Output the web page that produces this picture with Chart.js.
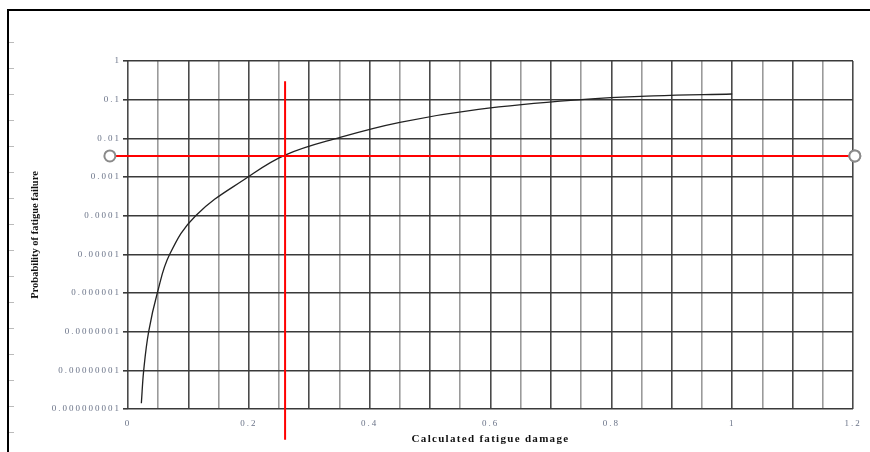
<!doctype html>
<html lang="en">
<head>
    <meta charset="utf-8">
    <title>Probability of fatigue failure</title>
    <style>
        * {
            margin: 0;
            padding: 0;
        }

        body {
            background: white;
        }

        .chartBox {
            width: 870px;
            height: 452px;
        }
    </style>
</head>
<body>
    <div class="chartBox">
        <canvas id="myChart" width="870" height="452"></canvas>
    </div>
    <script src="https://cdn.jsdelivr.net/npm/chart.js"></script>
    <script>
        // setup
        const damage = [0.0221, 0.026, 0.0342, 0.0485, 0.069, 0.112, 0.1986, 0.26, 0.35, 0.45, 0.58, 0.75, 0.87, 1.0];
        const probability = [1.41e-9, 1e-8, 1e-7, 1e-6, 1e-5, 1e-4, 1e-3, 3.7e-3, 1.05e-2, 2.6e-2, 5.6e-2, 0.1, 0.125, 0.14];

        // red reading lines
        const readX = [0.26, 0.26];
        const readXProb = [0.3, 1.6e-10];
        const readY = [0.0035, 0.0035];
        const readYDamage = [-0.03, 1.203];

        const yTicks = [1, 0.1, 0.01, 0.001, 0.0001, 0.00001, 0.000001, 0.0000001, 0.00000001, 0.000000001];
        const yTickLabels = ['1', '0.1', '0.01', '0.001', '0.0001', '0.00001', '0.000001', '0.0000001', '0.00000001', '0.000000001'];
        const xLabelStep = 0.2;

        const serif = '"Liberation Serif", "DejaVu Serif", serif';

        const toPoints = (xs, ys) => xs.map((x, i) => ({ x: x, y: ys[i] }));

        // letter spacing per scale: [tick labels, title]
        const spacing = { x: ['2px', '1.3px'], y: ['2px', '0px'] };

        const framePlugin = {
            id: 'frame',
            beforeDraw(chart) {
                // page frame and small ruler marks on the left
                const ctx = chart.ctx;
                ctx.save();
                ctx.fillStyle = 'white';
                ctx.fillRect(0, 0, chart.width, chart.height);
                ctx.strokeStyle = '#000';
                ctx.lineWidth = 2;
                ctx.beginPath();
                ctx.moveTo(8, chart.height);
                ctx.lineTo(8, 10);
                ctx.lineTo(chart.width, 10);
                ctx.stroke();
                ctx.strokeStyle = '#bbb';
                ctx.lineWidth = 1;
                for (let y = 42; y < chart.height; y += 26) {
                    ctx.beginPath();
                    ctx.moveTo(9, y + 0.5);
                    ctx.lineTo(14, y + 0.5);
                    ctx.stroke();
                }
                ctx.restore();
            },
            afterLayout(chart) {
                Object.keys(spacing).forEach(id => {
                    const s = chart.scales[id];
                    if (!s || s._spaced) return;
                    const drawLabels = s.drawLabels;
                    const drawTitle = s.drawTitle;
                    s.drawLabels = function(area) {
                        this.ctx.letterSpacing = spacing[id][0];
                        drawLabels.call(this, area);
                        this.ctx.letterSpacing = '0px';
                    };
                    s.drawTitle = function() {
                        this.ctx.letterSpacing = spacing[id][1];
                        drawTitle.call(this);
                        this.ctx.letterSpacing = '0px';
                    };
                    s._spaced = true;
                });
            },
            afterDatasetsDraw(chart) {
                // end markers lie outside the plot area, draw them with the full canvas as area
                const meta = chart.getDatasetMeta(2);
                const full = { left: 0, top: 0, right: chart.width, bottom: chart.height };
                meta.data.forEach(pt => pt.draw(chart.ctx, full));
            }
        };

        const data = {
            datasets: [{
                label: 'Probability of fatigue failure',
                data: toPoints(damage, probability),
                showLine: true,
                borderColor: '#222',
                borderWidth: 1.3,
                pointRadius: 0,
                tension: 0.4,
                order: 3
            }, {
                label: 'Damage reading',
                data: toPoints(readX, readXProb),
                showLine: true,
                borderColor: '#ff0000',
                borderWidth: 2,
                pointRadius: 0,
                clip: false,
                order: 2
            }, {
                label: 'Probability reading',
                data: toPoints(readYDamage, readY),
                showLine: true,
                borderColor: '#ff0000',
                borderWidth: 2,
                pointRadius: 5.5,
                pointBackgroundColor: 'white',
                pointBorderColor: '#8a8a8a',
                pointBorderWidth: 2,
                clip: false,
                order: 1
            }]
        };

        const config = {
            type: 'scatter',
            data: data,
            plugins: [framePlugin],
            options: {
                responsive: false,
                animation: false,
                events: [],
                layout: {
                    padding: { left: 25, top: 61, right: 17, bottom: 0 }
                },
                plugins: {
                    legend: { display: false },
                    tooltip: { enabled: false }
                },
                scales: {
                    x: {
                        type: 'linear',
                        min: 0,
                        max: 1.2,
                        afterFit: s => { s.height = 452 - 409; },
                        border: { display: false },
                        grid: {
                            drawTicks: false,
                            lineWidth: 1.6,
                            color: c => (Math.round(c.tick.value * 100) % 10 === 0) ? '#4a4a4a' : '#9a9a9a'
                        },
                        ticks: {
                            stepSize: 0.05,
                            autoSkip: false,
                            maxRotation: 0,
                            padding: 9,
                            color: '#6a7388',
                            font: { family: serif, size: 9 },
                            callback: v => {
                                const r = v / xLabelStep;
                                return Math.abs(r - Math.round(r)) < 1e-6 ? String(+v.toFixed(2)) : '';
                            }
                        },
                        title: {
                            display: true,
                            text: 'Calculated fatigue damage',
                            color: '#111',
                            font: { family: serif, size: 11, weight: 'bold' },
                            padding: { top: 0, bottom: 6 }
                        }
                    },
                    y: {
                        type: 'logarithmic',
                        min: 1e-9,
                        max: 1,
                        afterBuildTicks: s => { s.ticks = yTicks.map(v => ({ value: v })); },
                        afterFit: s => { s.width = 128 - 25; },
                        border: { display: false },
                        grid: {
                            tickLength: 5,
                            lineWidth: 1.6,
                            color: '#3a3a3a'
                        },
                        ticks: {
                            autoSkip: false,
                            padding: 2,
                            color: '#6a7388',
                            font: { family: serif, size: 9 },
                            callback: v => yTickLabels[yTicks.indexOf(v)] ?? ''
                        },
                        title: {
                            display: true,
                            text: 'Probability of fatigue failure',
                            color: '#111',
                            font: { family: serif, size: 10.5, weight: 'bold' },
                            padding: { top: 4, bottom: 0 }
                        }
                    }
                }
            }
        };

        // render init block
        const myChart = new Chart(document.getElementById('myChart'), config);
    </script>
</body>
</html>
